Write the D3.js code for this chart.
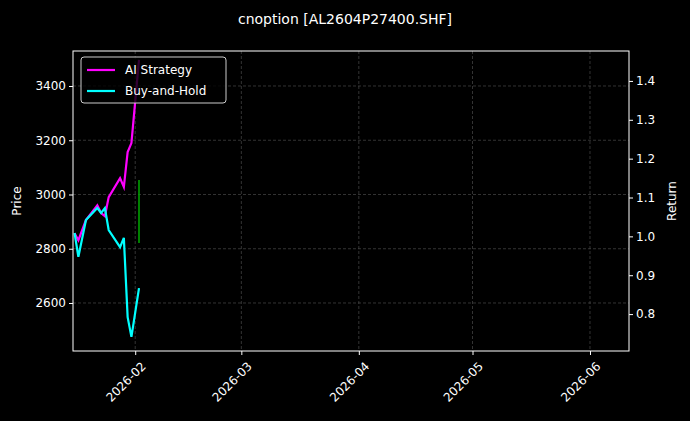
<!DOCTYPE html>
<html><head><meta charset="utf-8">
<script src="https://cdn.jsdelivr.net/npm/d3@7"></script>
<style>body{margin:0;background:#000}</style>
</head><body>
<svg id="chart" width="690" height="421"></svg>
<script>
var dates = ["2026-01-16","2026-01-17","2026-01-19","2026-01-22","2026-01-23","2026-01-24","2026-01-25","2026-01-28","2026-01-29","2026-01-30","2026-01-31","2026-02-02"];
var price = [2858,2770,2906,2950,2932,2950,2869,2806,2840,2548,2475,2655];
var aiReturn = [1.008,0.990,1.042,1.080,1.060,1.052,1.101,1.150,1.127,1.217,1.240,1.454];
var signalDates = ["2026-02-02","2026-02-02"];
var signalValues = [0.983,1.145];
var priceTicks = [2600,2800,3000,3200,3400];
var returnTicks = [0.8,0.9,1.0,1.1,1.2,1.3,1.4];
var monthTicks = ["2026-02-01","2026-03-01","2026-04-01","2026-05-01","2026-06-01"];

var parse = d3.utcParse("%Y-%m-%d");
var margin = {top: 51, right: 61, bottom: 70, left: 73},
w = 690 - margin.left - margin.right,
h = 421 - margin.top - margin.bottom;

var svg = d3.select("#chart");
var g = svg.append("g").attr("transform", "translate(" + margin.left + "," + margin.top + ")");

var x = d3.scaleUtc().domain([new Date(Date.UTC(2026,0,15,14)), new Date(Date.UTC(2026,5,11,7))]).range([0, w]);
var y = d3.scaleLinear().domain([2423, 3529]).range([h, 0]);
var y2 = d3.scaleLinear().domain([0.705, 1.477]).range([h, 0]);

// grid
g.append("g").selectAll("line").data(monthTicks).enter().append("line")
    .attr("x1", function(d) { return x(parse(d)); }).attr("x2", function(d) { return x(parse(d)); })
    .attr("y1", 0).attr("y2", h)
    .attr("stroke", "#555").attr("stroke-width", 0.6).attr("stroke-dasharray", "3,2");
g.append("g").selectAll("line").data(priceTicks).enter().append("line")
    .attr("x1", 0).attr("x2", w)
    .attr("y1", function(d) { return y(d); }).attr("y2", function(d) { return y(d); })
    .attr("stroke", "#555").attr("stroke-width", 0.6).attr("stroke-dasharray", "3,2");

g.append("clipPath").attr("id", "clip").append("rect").attr("width", w).attr("height", h);
var plot = g.append("g").attr("clip-path", "url(#clip)");

var priceLine = d3.line().x(function(d, i) { return x(parse(dates[i])); }).y(function(d) { return y(d); });
var retLine = d3.line().x(function(d, i) { return x(parse(dates[i])); }).y(function(d) { return y2(d); });
var sigLine = d3.line().x(function(d, i) { return x(parse(signalDates[i])); }).y(function(d) { return y2(d); });

plot.append("path").datum(signalValues).attr("d", sigLine).attr("fill", "none").attr("stroke", "#00a000").attr("stroke-width", 2).attr("opacity", 0.8);
plot.append("path").datum(aiReturn).attr("d", retLine).attr("fill", "none").attr("stroke", "#ff00ff").attr("stroke-width", 2.2);
plot.append("path").datum(price).attr("d", priceLine).attr("fill", "none").attr("stroke", "#00ffff").attr("stroke-width", 2.2);

// axes
var ax = g.append("g").attr("transform", "translate(0," + h + ")")
    .call(d3.axisBottom(x).tickValues(monthTicks.map(parse)).tickFormat(d3.utcFormat("%Y-%m")).tickSize(4));
ax.selectAll("text").attr("transform", "rotate(-45)").style("text-anchor", "end").attr("dx", "-0.3em").attr("dy", "1em");
var al = g.append("g").call(d3.axisLeft(y).tickValues(priceTicks).tickFormat(d3.format("d")).tickSize(4));
var ar = g.append("g").attr("transform", "translate(" + w + ",0)").call(d3.axisRight(y2).tickValues(returnTicks).tickFormat(d3.format(".1f")).tickSize(4));
[ax, al, ar].forEach(function(a) {
    a.select(".domain").remove();
    a.selectAll("line").attr("stroke", "#fff");
    a.selectAll("text").attr("fill", "#fff").style("font-family", "DejaVu Sans").style("font-size", "12px");
});
g.append("rect").attr("width", w).attr("height", h).attr("fill", "none").attr("stroke", "#fff").attr("stroke-width", 1);

svg.append("text").attr("x", 345).attr("y", 24).attr("text-anchor", "middle").attr("fill", "#fff")
    .style("font-family", "DejaVu Sans").style("font-size", "14px").text("cnoption [AL2604P27400.SHF]");
svg.append("text").attr("transform", "translate(21," + (margin.top + h / 2) + ") rotate(-90)").attr("text-anchor", "middle")
    .attr("fill", "#fff").style("font-family", "DejaVu Sans").style("font-size", "12px").text("Price");
svg.append("text").attr("transform", "translate(676," + (margin.top + h / 2) + ") rotate(-90)").attr("text-anchor", "middle")
    .attr("fill", "#fff").style("font-family", "DejaVu Sans").style("font-size", "12px").text("Return");

// legend
var legend = svg.append("g").attr("transform", "translate(81,57)");
legend.append("rect").attr("width", 145).attr("height", 46).attr("rx", 3).attr("fill", "#000").attr("fill-opacity", 0.8).attr("stroke", "#ccc");
[["AI Strategy", "#ff00ff"], ["Buy-and-Hold", "#00ffff"]].forEach(function(d, i) {
    legend.append("line").attr("x1", 6).attr("x2", 34).attr("y1", 13 + i * 21).attr("y2", 13 + i * 21).attr("stroke", d[1]).attr("stroke-width", 2.2);
    legend.append("text").attr("x", 44).attr("y", 17 + i * 21).attr("fill", "#fff").style("font-family", "DejaVu Sans").style("font-size", "12px").text(d[0]);
});
</script>
</body></html>
